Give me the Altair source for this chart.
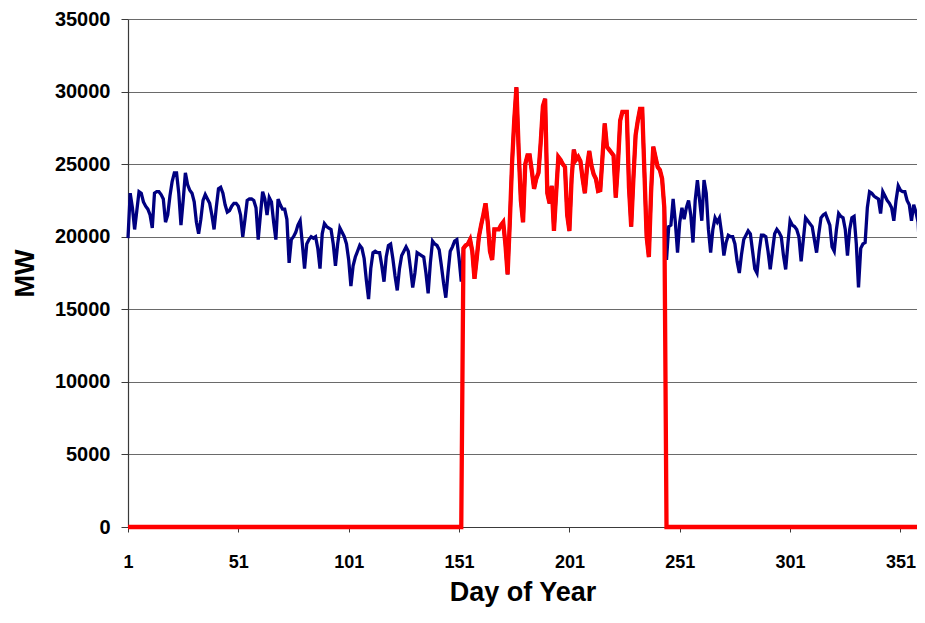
import altair as alt
import pandas as pd

# Daily load (MW), day 1 .. day 363
load_days_001_060 = [
    19900, 23000, 22000, 20500, 21800, 23100, 23000, 22400, 22100, 21900,
    21500, 20600, 23000, 23100, 23100, 22900, 22600, 21000, 21500, 22800,
    23800, 24400, 24400, 23000, 20800, 22500, 24400, 23600, 23200, 23000,
    22400, 21000, 20200, 21200, 22500, 22900, 22600, 22300, 21500, 20500,
    22000, 23300, 23400, 23000, 22200, 21700, 21800, 22100, 22300, 22300,
    22100, 21500, 20000, 21200, 22500, 22600, 22600, 22500, 22000, 19800,
]
load_days_061_120 = [
    21500, 23100, 22600, 21500, 22700, 22400, 21000, 19800, 22600, 22200,
    21900, 21900, 21200, 18200, 19800, 20000, 20300, 20800, 21100, 19500,
    17800, 19500, 19800, 20000, 19900, 20000, 19200, 17800, 20200, 20900,
    20700, 20600, 20500, 19500, 18000, 19500, 20600, 20300, 20000, 19500,
    18400, 16600, 18000, 18600, 19000, 19400, 19200, 18500, 17000, 15700,
    17800, 18900, 19000, 18900, 18900, 18000, 16900, 18600, 19400, 19500,
]
load_days_121_152 = [
    18500, 17300, 16300, 17800, 18700, 19000, 19300, 19000, 17800, 16500,
    17500, 18900, 18800, 18700, 18600, 17500, 16100, 18200, 19700, 19500,
    19400, 19100, 18000, 16800, 15800, 17500, 19000, 19300, 19700, 19800,
    18500, 16900,
]
load_days_153_244 = [
    19200, 19400, 19500, 19800, 19000, 17100, 18500, 20000, 20800, 21500,
    22300, 21000, 19000, 18400, 20500, 20500, 20500, 20800, 21000, 19500,
    17400, 21000, 25000, 28000, 30300, 26000, 22500, 21000, 25000, 25600,
    25600, 24500, 23300, 24000, 24400, 26500, 29000, 29500, 23000, 22300,
    23500, 20400, 23000, 25500, 25300, 25000, 24800, 21500, 20400, 24000,
    26000, 25300, 25500, 25200, 24000, 23000, 24800, 25900, 24900, 24300,
    24000, 23150, 23200, 25500, 27800, 26200, 26000, 25800, 25600, 22700,
    25000, 28000, 28600, 28600, 28600, 23400, 20700, 24000, 27000, 28000,
    28800, 28800, 24400, 20000, 18600, 23000, 26200, 25500, 24800, 24600,
    24000, 22000,
]
load_days_245_304 = [
    18400, 20700, 20800, 22600, 21000, 18900, 21000, 22000, 21200, 22000,
    22500, 21500, 19600, 22500, 23900, 22500, 21100, 23900, 23000, 20500,
    18900, 20500, 21300, 21000, 21300, 20200, 18700, 19600, 20100, 20000,
    20000, 19500, 18300, 17500, 18800, 19800, 20100, 20400, 20200, 19000,
    17800, 17500, 19000, 20100, 20100, 20000, 19000, 17750, 19000, 20200,
    20500, 20300, 20000, 18700, 17750, 19500, 21100, 20800, 20700, 20500,
]
load_days_305_363 = [
    20000, 18300, 19800, 21300, 21100, 20900, 20700, 19800, 18900, 20200,
    21300, 21500, 21600, 21200, 20800, 19300, 19000, 20500, 21600, 21400,
    21300, 20500, 18700, 20500, 21300, 21400, 19500, 16500, 19200, 19500,
    19600, 22000, 23100, 23000, 22800, 22700, 22600, 21600, 23100, 22800,
    22500, 22300, 22000, 21100, 22500, 23500, 23200, 23100, 23100, 22500,
    22200, 21100, 22200, 21700, 21000, 18100, 19800, 20700, 20700,
]

summer_first_day = 153
summer_last_day = 244

x_tick_values = [1, 51, 101, 151, 201, 251, 301, 351]
y_tick_values = [0, 5000, 10000, 15000, 20000, 25000, 30000, 35000]

load = (load_days_001_060 + load_days_061_120 + load_days_121_152 +
        load_days_153_244 + load_days_245_304 + load_days_305_363)
days = list(range(1, len(load) + 1))
summer = [v if summer_first_day <= d <= summer_last_day else 0
          for d, v in zip(days, load)]

df_all = pd.DataFrame({"day": days, "MW": load})
df_summer = pd.DataFrame({"day": days, "MW": summer})

FONT = "Liberation Sans"

x_enc = alt.X(
    "day:Q",
    scale=alt.Scale(domain=[1, 358.5], nice=False, zero=False),
    axis=alt.Axis(
        values=x_tick_values, grid=False, title="Day of Year", format="d",
        labelFlush=False, labelOverlap=False,
        tickSize=5, labelPadding=21, labelFontSize=18,
        titleFontSize=27, titleY=73, titleBaseline="alphabetic",
    ),
)
y_enc = alt.Y(
    "MW:Q",
    scale=alt.Scale(domain=[0, 35000], nice=False),
    axis=alt.Axis(
        values=y_tick_values, grid=True, title="MW", format="d",
        labelFlush=False, labelOverlap=False,
        tickSize=7, labelPadding=11, labelFontSize=20,
        titleFontSize=27, titleAngle=270, titleX=-95, titleY=254,
        titleBaseline="alphabetic", titleAlign="center",
    ),
)

blue = alt.Chart(df_all).mark_line(color="#000080", strokeWidth=3.3).encode(x=x_enc, y=y_enc)
red = alt.Chart(df_summer).mark_line(color="#FF0000", strokeWidth=4.3).encode(x=x_enc, y=y_enc)

chart = (
    alt.layer(blue, red)
    .properties(
        width=789, height=508,
        padding={"left": 120, "top": 11, "right": 0, "bottom": 82},
        autosize=alt.AutoSizeParams(type="none"),
        background="white",
    )
    .configure_view(stroke=None)
    .configure_axis(
        labelFont=FONT, labelFontWeight="bold", labelColor="black",
        titleFont=FONT, titleFontWeight="bold", titleColor="black",
        domainColor="#3a3a3a", domainWidth=1.2,
        tickColor="#3a3a3a", tickWidth=1,
        gridColor="#6a6a6a", gridWidth=1,
    )
)

chart.save("out.html", embed_options={"renderer": "svg", "actions": False})
